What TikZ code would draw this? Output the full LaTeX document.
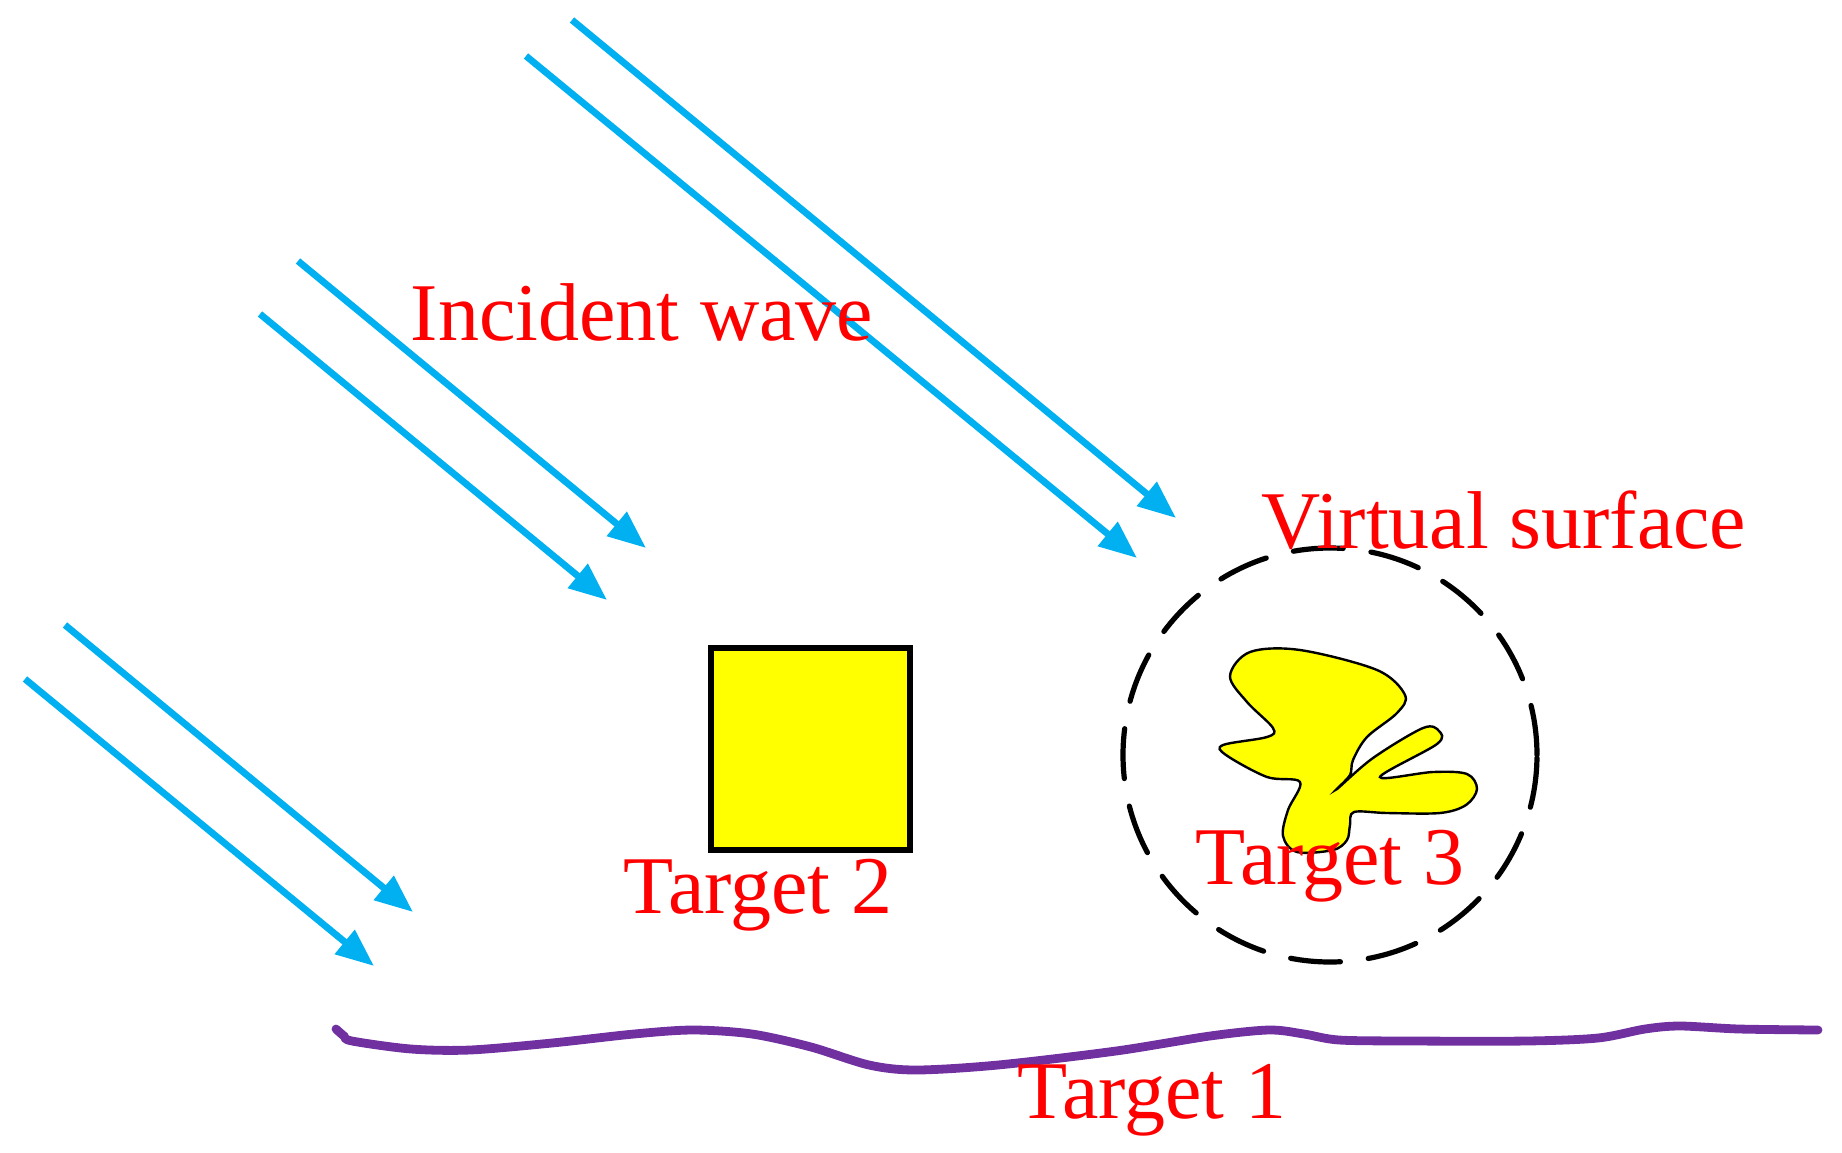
\documentclass[tikz,border=0pt]{standalone}
\usepackage{fontspec}
\setmainfont{Liberation Serif}
\usetikzlibrary{arrows.meta}
\definecolor{wave}{HTML}{00B0F0}
\definecolor{ground}{HTML}{7030A0}
\definecolor{tyellow}{HTML}{FFFF00}
\definecolor{tred}{HTML}{FF0000}
\tikzset{
  wavearrow/.style={draw=wave, line width=3.4pt, -{Triangle[length=19pt,width=15pt]}},
  label/.style={text=tred, font=\fontsize{41}{49}\selectfont, inner sep=0pt, anchor=base},
  targetbox/.style={draw=black, fill=tyellow, line width=2.6pt},
  vsurf/.style={draw=black, line width=2.6pt, dash pattern=on 25pt off 14pt, line cap=round},
}
\begin{document}
\begin{tikzpicture}[x=0.5pt,y=-0.5pt]
\useasboundingbox (0,0) rectangle (1842,1152);
% incident wave arrows
\coordinate (a1s) at (572,20);   \coordinate (a1e) at (1176,518);
\coordinate (a2s) at (526,56);   \coordinate (a2e) at (1137,558);
\coordinate (a3s) at (298,261);  \coordinate (a3e) at (646,548);
\coordinate (a4s) at (260,314);  \coordinate (a4e) at (607,600);
\coordinate (a5s) at (65,625);   \coordinate (a5e) at (413,912);
\coordinate (a6s) at (25,679);   \coordinate (a6e) at (374,966);
\draw[wavearrow] (a1s) -- (a1e);
\draw[wavearrow] (a2s) -- (a2e);
\draw[wavearrow] (a3s) -- (a3e);
\draw[wavearrow] (a4s) -- (a4e);
\draw[wavearrow] (a5s) -- (a5e);
\draw[wavearrow] (a6s) -- (a6e);
% target 2
\draw[targetbox] (711,648) rectangle (910,850);
% target 3 blob
\draw[fill=tyellow, line width=1.2pt] plot[smooth cycle, tension=0.55] coordinates {
 (1230,676) (1250,652) (1300,650) (1377,670) (1405,695) (1397,713)
 (1367,737) (1353,760) (1350,775) (1337,789) (1373,758) (1423,728)
 (1439,731) (1437,744) (1380,777) (1433,772) (1467,774) (1477,789)
 (1466,805) (1440,813) (1387,813) (1354,812) (1350,825) (1347,840)
 (1333,850) (1297,852) (1283,836) (1288,810) (1300,782) (1267,777)
 (1226,755) (1223,745) (1267,737) (1273,728) (1247,702)
};
% virtual surface
\node[vsurf, circle, minimum size=207pt, inner sep=0pt] (vs) at (1330,755) {};
% target 1 ground
\draw[ground, line width=4.4pt, line cap=round] plot[smooth, tension=0.5] coordinates {
 (336,1029) (344,1036) (352,1041) (411,1049) (470,1050) (552,1043) (634,1034)
 (693,1030) (752,1034) (811,1047) (869,1065) (916,1070) (998,1065) (1116,1051)
 (1210,1036) (1269,1030) (1304,1034) (1339,1040) (1410,1041) (1527,1041)
 (1598,1038) (1645,1029) (1680,1026) (1739,1029) (1818,1030)
};
% labels
\node[label] (lw) at (642,340) {Incident wave};
\node[label] (lv) at (1504,548) {Virtual surface};
\node[label] (l2) at (758,913) {Target 2};
\node[label] (l3) at (1330,884) {Target 3};
\node[label] (l1) at (1152,1118) {Target 1};
\end{tikzpicture}
\end{document}
